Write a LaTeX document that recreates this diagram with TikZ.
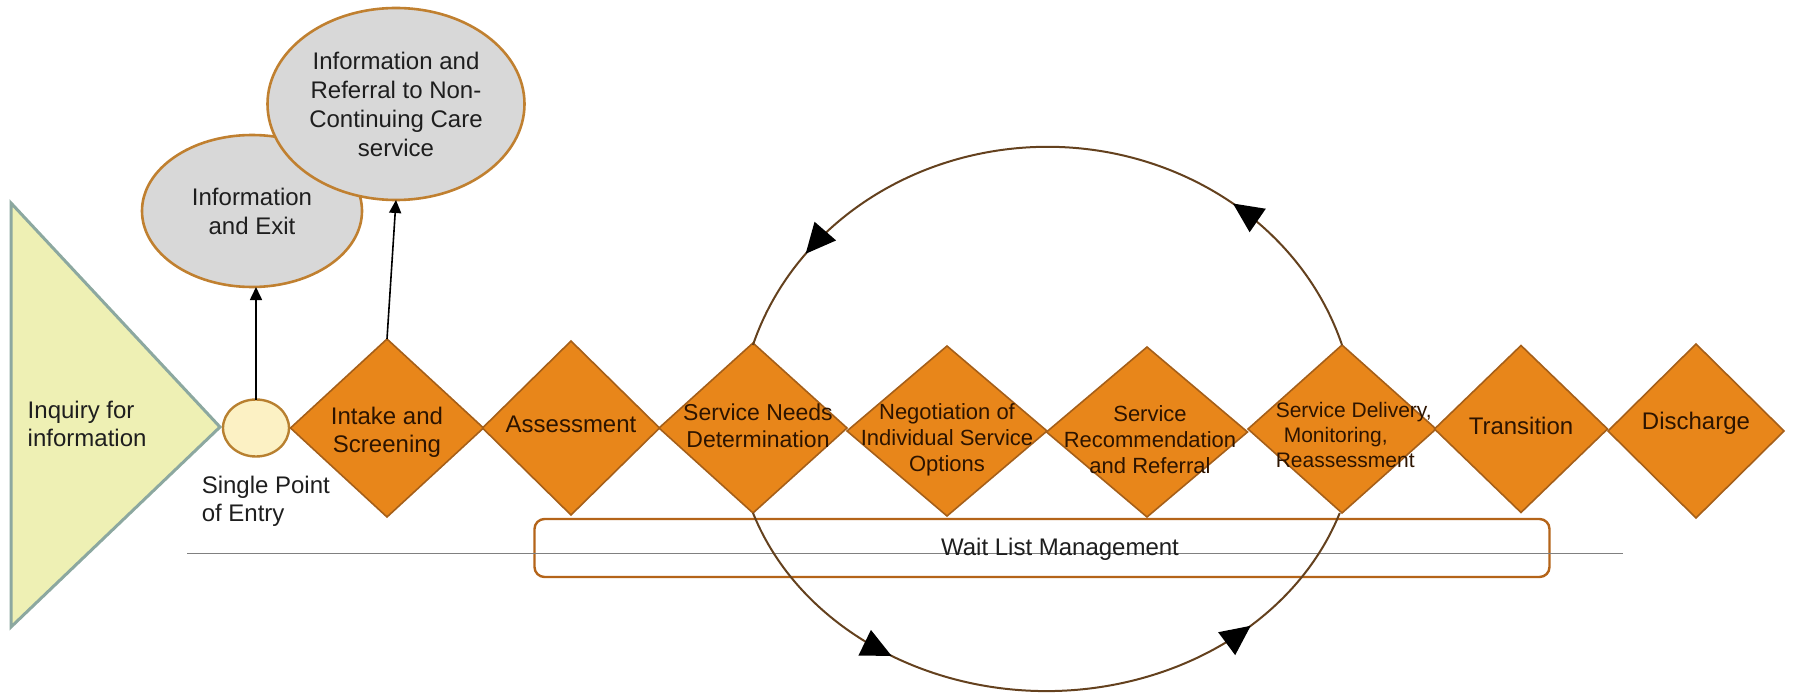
\documentclass[tikz,border=0pt]{standalone}
\usepackage{fontspec}
\setmainfont{Liberation Sans}
\usetikzlibrary{shapes.geometric,arrows.meta,decorations.markings}

\definecolor{trifill}{RGB}{238,240,180}
\definecolor{triline}{RGB}{140,168,160}
\definecolor{entryfill}{RGB}{252,241,196}
\definecolor{entryline}{RGB}{184,128,48}
\definecolor{bubblefill}{RGB}{216,216,216}
\definecolor{bubbleline}{RGB}{192,128,48}
\definecolor{stagefill}{RGB}{232,134,26}
\definecolor{stageline}{RGB}{165,95,25}
\definecolor{stagetxt}{RGB}{45,20,0}
\definecolor{waitline}{RGB}{180,100,25}
\definecolor{loopcol}{RGB}{100,65,30}
\definecolor{rulecol}{RGB}{128,128,128}
\definecolor{textcol}{RGB}{30,30,30}

\tikzset{every picture/.style={line width=0.75pt}}
\tikzset{
  stage/.style={diamond, draw=stageline, fill=stagefill, line width=0.8pt, inner sep=0pt, outer sep=0pt},
  stagetext/.style={align=center, text=stagetxt, inner sep=0pt, font=\fontsize{12}{14}\selectfont},
  bubble/.style={ellipse, draw=bubbleline, fill=bubblefill, line width=1.3pt, inner sep=0pt, outer sep=0pt, align=center, text=textcol, font=\fontsize{12}{14.5}\selectfont},
  plaintext/.style={inner sep=0pt, text=textcol, font=\fontsize{12}{14}\selectfont},
  uparrow/.style={-{Triangle[length=6.5pt,width=6pt]}, line width=0.8pt, black},
  loopline/.style={draw=loopcol, line width=1pt, postaction={decorate}},
}

\begin{document}
\begin{tikzpicture}[x=0.5pt,y=0.5pt,yscale=-1,xscale=1]
    \useasboundingbox (0,0) rectangle (1793,695);

    %Shape: Triangle
    \draw [draw=triline, fill=trifill, line width=1.5pt, line join=miter] (11,203) -- (220,427) -- (11,627) -- cycle ;
    % Text Node
    \node [plaintext, anchor=west, align=left] (inquiry) at (27,424) {Inquiry for\\information};

    %Shape: Ellipse
    \node [bubble, minimum width=110pt, minimum height=76pt] (infoexit) at (252,211) {Information\\and Exit};
    %Shape: Ellipse
    \node [bubble, minimum width=128.5pt, minimum height=96pt] (inforef) at (396,104) {Information and\\Referral to Non-\\Continuing Care\\service};

    %Shape: Circle
    \node [ellipse, draw=entryline, fill=entryfill, line width=1.2pt, minimum width=33pt, minimum height=28.5pt, inner sep=0pt, outer sep=0pt] (entry) at (256,428) {};
    % Text Node
    \node [plaintext, anchor=north west, align=left] (entrylabel) at (201,475) {Single Point\\of Entry};

    %Straight Lines
    \draw [uparrow] (entry.north) -- (entry.north |- infoexit.south) ;

    %Shape: Diamonds
    \node [stage, minimum width=96.5pt, minimum height=89pt] (intake) at (387,428) {};
    \node [stage, minimum width=88.5pt, minimum height=87pt] (assess) at (571,428) {};
    \node [stage, minimum width=94pt, minimum height=85pt] (needs) at (753,428) {};
    \node [stage, minimum width=100pt, minimum height=85pt] (negot) at (947,431) {};
    \node [stage, minimum width=100.5pt, minimum height=85pt] (recom) at (1147,432) {};
    \node [stage, minimum width=94pt, minimum height=84pt] (deliv) at (1342,429) {};
    \node [stage, minimum width=86.5pt, minimum height=83.5pt] (trans) at (1521,429) {};
    \node [stage, minimum width=88pt, minimum height=87pt] (disch) at (1696,431) {};

    %Straight Lines
    \draw [uparrow] (intake.north) -- (inforef.south) ;

    %Shape: Rounded Rect
    \node [draw=waitline, fill=white, line width=1.2pt, rounded corners=5pt, minimum width=507.5pt, minimum height=29pt, inner sep=0pt] (waitlist) at (1042,548) {};
    %Straight Lines
    \draw [rulecol, line width=0.7pt] (187,553.5) -- (1623,553.5) ;

    % Text Node
    \node [stagetext] (intake-t) at (387,432) {Intake and\\Screening};
    \node [stagetext] (assess-t) at (571,424) {Assessment};
    \node [stagetext, font=\fontsize{11.5}{13.5}\selectfont] (needs-t) at (758,426) {Service Needs\\Determination};
    \node [stagetext, font=\fontsize{11}{13}\selectfont] (negot-t) at (947,440) {Negotiation of\\Individual Service\\Options};
    \node [stagetext, font=\fontsize{11}{13}\selectfont] (recom-t) at (1150,440) {Service\\Recommendation\\and Referral};
    \node [stagetext, align=left, anchor=west, font=\fontsize{10.5}{12.5}\selectfont] (deliv-t) at (1275,435) {Service Delivery,\\\hspace*{4pt}Monitoring,\\Reassessment};
    \node [stagetext] (trans-t) at (1521,426) {Transition};
    \node [stagetext] (disch-t) at (1696,423) {Discharge};
    % Text Node
    \node [plaintext] (waitlist-t) at (1060,549) {Wait List Management};

    %Curve Lines
    \draw [loopline, decoration={markings,
        mark=at position 0.24 with {\arrow{Triangle[length=15pt,width=14pt,color=black]}},
        mark=at position 0.86 with {\arrow{Triangle[length=15pt,width=14pt,color=black]}}}]
      (deliv.north) arc[start angle=-17.3, end angle=-162.7, x radius=308.5, y radius=282] ;
    %Curve Lines
    \draw [loopline, decoration={markings,
        mark=at position 0.28 with {\arrow{Triangle[length=15pt,width=14pt,color=black]}},
        mark=at position 0.80 with {\arrow{Triangle[length=15pt,width=14pt,color=black]}}}]
      (needs.south) arc[start angle=161.15, end angle=18.85, x radius=310, y radius=263] ;

\end{tikzpicture}
\end{document}
